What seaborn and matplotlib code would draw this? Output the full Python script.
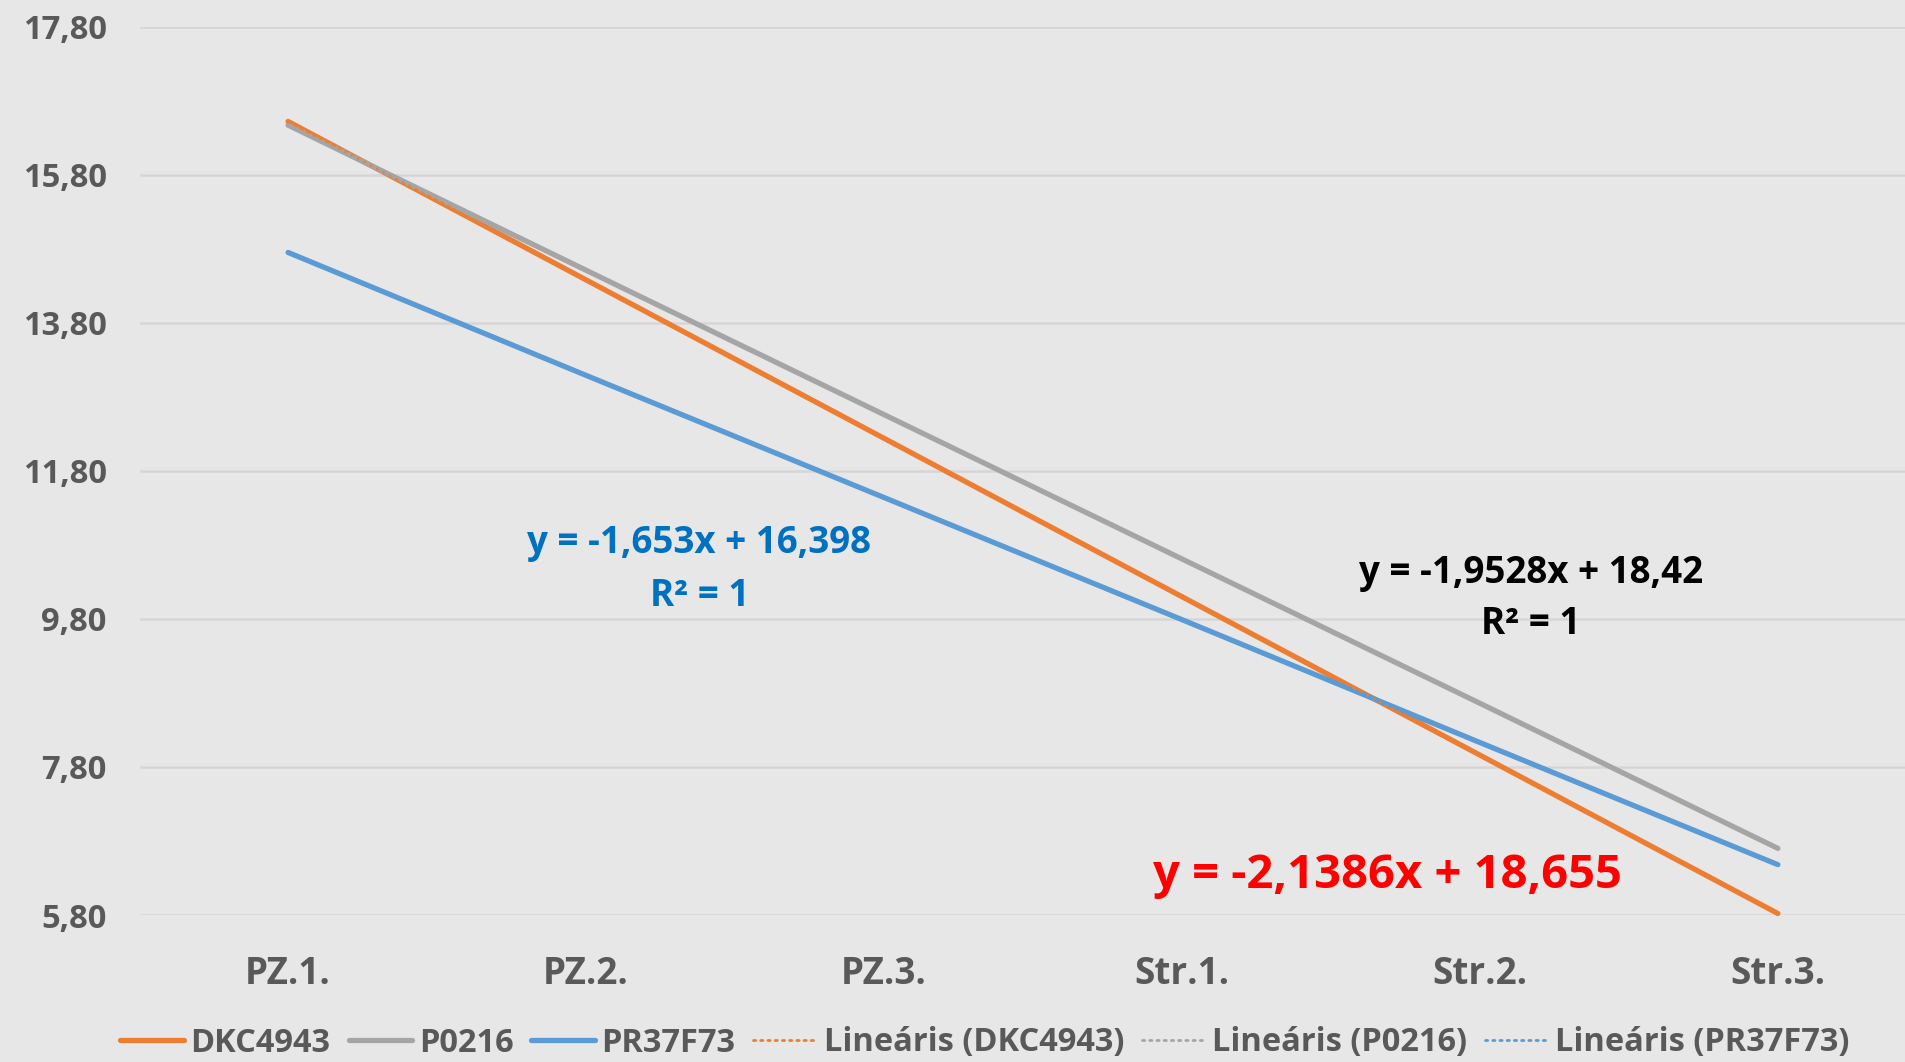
import numpy as np
import pandas as pd
import matplotlib
matplotlib.use("Agg")
import matplotlib.pyplot as plt
import seaborn as sns

categories = ["PZ.1.", "PZ.2.", "PZ.3.", "Str.1.", "Str.2.", "Str.3."]
dkc4943 = [16.52, 14.38, 12.24, 10.10, 7.96, 5.82]
p0216 = [16.47, 14.51, 12.56, 10.61, 8.66, 6.70]
pr37f73 = [14.75, 13.09, 11.44, 9.79, 8.13, 6.48]
series_names = ["DKC4943", "P0216", "PR37F73"]
yticks = [5.80, 7.80, 9.80, 11.80, 13.80, 15.80, 17.80]
eq_blue = ["y = -1,653x + 16,398", "R² = 1"]
eq_black = ["y = -1,9528x + 18,42", "R² = 1"]
eq_red = "y = -2,1386x + 18,655"

colors = {"DKC4943": "#ED7D31", "P0216": "#A5A5A5", "PR37F73": "#5B9BD5"}
bg = "#E7E7E7"
txt = "#595959"
FONT = ["Open Sans", "DejaVu Sans"]

sns.set_theme(style="white")
plt.rcParams["font.family"] = FONT

x = np.arange(len(categories))
df = pd.DataFrame({"x": np.tile(x, 3),
                   "value": dkc4943 + p0216 + pr37f73,
                   "series": np.repeat(series_names, len(categories))})

fig = plt.figure(figsize=(19.06, 10.62), dpi=100, facecolor=bg)
ax = fig.add_axes([140 / 1906, 1 - 915 / 1062, 1 - 140 / 1906, (915 - 26.7) / 1062])
ax.set_facecolor(bg)

sns.lineplot(data=df, x="x", y="value", hue="series", palette=colors, ax=ax,
             linewidth=3.8, legend=False, clip_on=False, solid_capstyle="round")

# linear trendlines
handles = []
for name in series_names:
    h, = ax.plot([], [], color=colors[name], lw=3.8, solid_capstyle="round")
    handles.append((h, name))
for name in series_names:
    vals = df[df.series == name]["value"].values
    k, b = np.polyfit(x + 1, vals, 1)
    ax.plot(x, k * (x + 1) + b, color=colors[name], lw=2.0, ls=(0, (0.8, 1.8)),
            dash_capstyle="round", clip_on=False, zorder=5)
    h, = ax.plot([], [], color=colors[name], lw=2.0, ls=(0, (0.8, 1.8)),
                 dash_capstyle="round")
    handles.append((h, f"Lineáris ({name})"))

ax.set_xlim(-0.497, 5.43)
ax.set_ylim(5.8, 17.8)
ax.set_yticks(yticks)
ax.set_yticklabels([f"{v:.2f}".replace(".", ",") for v in yticks])
ax.set_xticks(x)
ax.set_xticklabels(categories)
ax.set_xlabel("")
ax.set_ylabel("")
ax.grid(axis="y", color="#D6D6D6", lw=1.8)
ax.grid(axis="x", visible=False)
ax.set_axisbelow(True)
for s in ax.spines.values():
    s.set_visible(False)
ax.tick_params(axis="both", length=0, colors=txt)
ax.tick_params(axis="y", labelsize=23.5, pad=24)
ax.tick_params(axis="x", labelsize=26.5, pad=29)
for lab in ax.get_xticklabels() + ax.get_yticklabels():
    lab.set_fontweight("bold")

ax.text(1.38, 10.83, eq_blue[0], color="#0070C0", fontsize=26.5, fontweight="bold",
        ha="center", va="center")
ax.text(1.38, 10.11, eq_blue[1], color="#0070C0", fontsize=26.5, fontweight="bold",
        ha="center", va="center")
ax.text(4.17, 10.42, eq_black[0], color="black", fontsize=26.5, fontweight="bold",
        ha="center", va="center")
ax.text(4.17, 9.73, eq_black[1], color="black", fontsize=26.5, fontweight="bold",
        ha="center", va="center")
ax.text(3.69, 6.34, eq_red, color="#FF0000", fontsize=34, fontweight="bold",
        ha="center", va="center")

leg = fig.legend([h for h, _ in handles], [n for _, n in handles], loc="center",
                 bbox_to_anchor=(985 / 1906, 1 - 1043 / 1062), ncol=6, frameon=False,
                 handlelength=1.95, handletextpad=0.2, columnspacing=0.55,
                 prop={"size": 23.5, "weight": "bold"})
for t in leg.get_texts():
    t.set_color(txt)

fig.savefig("out.png", dpi=100, facecolor=bg)
